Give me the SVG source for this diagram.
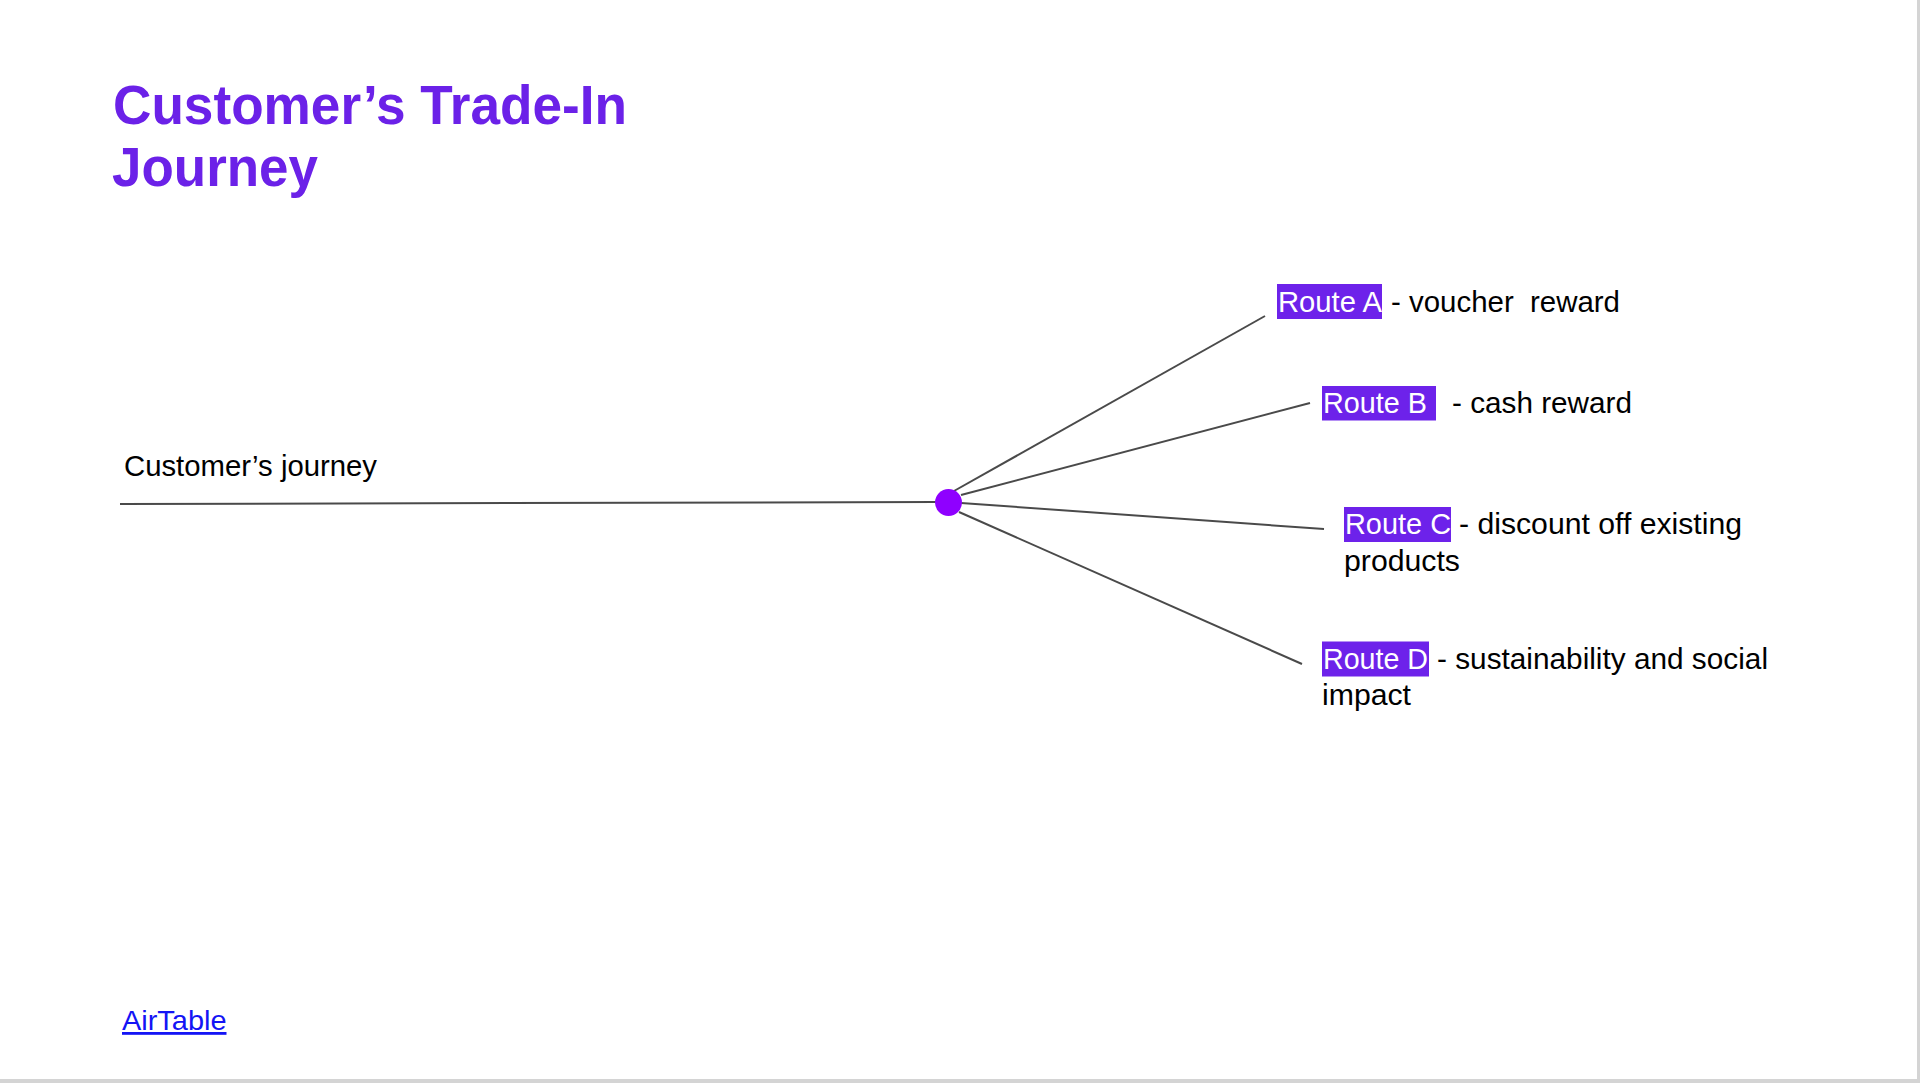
<svg xmlns="http://www.w3.org/2000/svg" width="1920" height="1083" viewBox="0 0 1920 1083">
<style>
.title{font-family:"Liberation Sans",Arial,sans-serif;font-weight:bold;font-size:56px;fill:#6B21E8}
.txt{font-family:"Liberation Sans",Arial,sans-serif;font-size:29px;fill:#000;white-space:pre}
.rt{font-family:"Liberation Sans",Arial,sans-serif;font-size:29px;fill:#fff;white-space:pre}
.hl{fill:#6D22EA}
.conn{stroke:#4a4a4a;stroke-width:2;fill:none}
.link{font-family:"Liberation Sans",Arial,sans-serif;font-size:28px;fill:#1414F5;text-decoration:underline}
</style>
<rect x="0" y="0" width="1920" height="1083" fill="#ffffff"/>
<rect x="1917" y="0" width="3" height="1083" fill="#d4d4d4"/>
<rect x="0" y="1079" width="1920" height="4" fill="#d4d4d4"/>
<g id="title">
<text class="title" x="113" y="124" textLength="514" lengthAdjust="spacingAndGlyphs">Customer’s Trade-In</text>
<text class="title" x="112" y="186" textLength="206" lengthAdjust="spacingAndGlyphs">Journey</text>
</g>
<g id="connectors">
<line class="conn" x1="120" y1="504" x2="936" y2="502"/>
<line class="conn" x1="954" y1="491" x2="1265" y2="316"/>
<line class="conn" x1="961" y1="495" x2="1310" y2="403"/>
<line class="conn" x1="961" y1="503" x2="1324" y2="529"/>
<line class="conn" x1="959" y1="512" x2="1302" y2="664"/>
</g>
<g id="journey-label">
<text class="txt" x="124" y="476" textLength="253" lengthAdjust="spacingAndGlyphs">Customer’s journey</text>
</g>
<g id="hub">
<circle cx="948.5" cy="502.5" r="13.5" fill="#8F00FF"/>
</g>
<g id="route-a">
<rect class="hl" x="1277" y="284" width="105" height="35"/>
<text class="rt" x="1278" y="312" textLength="104" lengthAdjust="spacingAndGlyphs">Route A</text>
<text class="txt" x="1391" y="312" textLength="229" lengthAdjust="spacingAndGlyphs">- voucher  reward</text>
</g>
<g id="route-b">
<rect class="hl" x="1322" y="386" width="114" height="34.5"/>
<text class="rt" x="1323" y="413" textLength="104" lengthAdjust="spacingAndGlyphs">Route B</text>
<text class="txt" x="1452" y="413" textLength="180" lengthAdjust="spacingAndGlyphs">- cash reward</text>
</g>
<g id="route-c">
<rect class="hl" x="1344" y="507" width="107" height="35"/>
<text class="rt" x="1345" y="534" textLength="106" lengthAdjust="spacingAndGlyphs">Route C</text>
<text class="txt" x="1459" y="534" textLength="283" lengthAdjust="spacingAndGlyphs">- discount off existing</text>
<text class="txt" x="1344" y="571" textLength="116" lengthAdjust="spacingAndGlyphs">products</text>
</g>
<g id="route-d">
<rect class="hl" x="1322" y="641.5" width="107" height="35"/>
<text class="rt" x="1323" y="669" textLength="105" lengthAdjust="spacingAndGlyphs">Route D</text>
<text class="txt" x="1437" y="669" textLength="331" lengthAdjust="spacingAndGlyphs">- sustainability and social</text>
<text class="txt" x="1322" y="705" textLength="89" lengthAdjust="spacingAndGlyphs">impact</text>
</g>
<g id="airtable-link">
<text class="link" x="122" y="1030" textLength="104.5" lengthAdjust="spacingAndGlyphs">AirTable</text>
</g>
</svg>
